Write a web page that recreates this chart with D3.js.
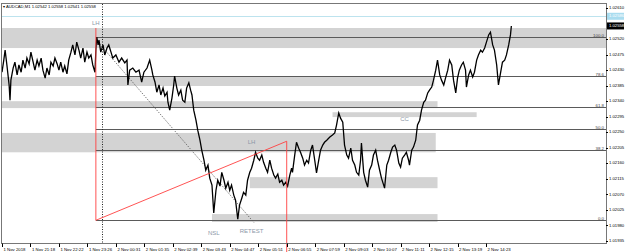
<!DOCTYPE html>
<html>
<head>
<meta charset="utf-8">
<script src="https://cdn.jsdelivr.net/npm/d3@7"></script>
<style>
  body { margin: 0; background: #fff; }
  svg { display: block; font-family: "Liberation Sans", Arial, sans-serif; }
</style>
</head>
<body>
<div id="chart"></div>
<script>
// AUDCAD M1, bar index counted from the first bar on screen
const header = "AUDCAD,M1  1.02542 1.02558 1.02541 1.02558";

const timeLabels = ["1 Nov 2018", "1 Nov 21:18", "1 Nov 22:22", "1 Nov 23:26", "2 Nov 00:31", "2 Nov 01:35",
  "2 Nov 02:39", "2 Nov 03:43", "2 Nov 04:47", "2 Nov 05:51", "2 Nov 06:55", "2 Nov 07:59",
  "2 Nov 09:03", "2 Nov 10:07", "2 Nov 11:11", "2 Nov 12:15", "2 Nov 13:19", "2 Nov 14:23"];
const barsPerLabel = 64;

const priceTicks = [1.01935, 1.01980, 1.02025, 1.02070, 1.02115, 1.02160, 1.02205, 1.02250,
  1.02295, 1.02340, 1.02385, 1.02430, 1.02475, 1.02520, 1.02610];

const askPrice = 1.02586;
const bidPrice = 1.02558;

// [bar, price]
const prices = [
  [0, 1.02424], [4, 1.02459], [7, 1.02488], [11, 1.02445], [16, 1.02387], [18, 1.02343], [20, 1.02401],
  [25, 1.02436], [29, 1.02453], [34, 1.02416], [38, 1.02445], [43, 1.02424], [47, 1.02459], [52, 1.02436],
  [56, 1.02465], [61, 1.02448], [65, 1.02482], [70, 1.02453], [74, 1.02430], [79, 1.02459], [83, 1.02442],
  [88, 1.02465], [92, 1.02430], [97, 1.02407], [101, 1.02436], [106, 1.02416], [110, 1.02453], [115, 1.02442],
  [119, 1.02465], [124, 1.02448], [128, 1.02430], [132, 1.02453], [137, 1.02424], [141, 1.02442], [146, 1.02419],
  [150, 1.02459], [155, 1.02482], [159, 1.02503], [164, 1.02474], [168, 1.02511], [173, 1.02488], [177, 1.02465],
  [182, 1.02494], [186, 1.02453], [191, 1.02482], [195, 1.02465], [200, 1.02474], [204, 1.02445], [209, 1.02424],
  [211, 1.02488], [213, 1.02526], [216, 1.02503], [218, 1.02517], [222, 1.02482], [227, 1.02503], [231, 1.02474],
  [236, 1.02494], [240, 1.02503], [245, 1.02482], [249, 1.02465], [256, 1.02474], [263, 1.02453], [269, 1.02465],
  [276, 1.02451], [281, 1.02459], [283, 1.02387], [287, 1.02430], [294, 1.02436], [301, 1.02424], [308, 1.02430],
  [314, 1.02395], [319, 1.02424], [326, 1.02436], [332, 1.02459], [337, 1.02430], [339, 1.02416], [344, 1.02395],
  [348, 1.02366], [353, 1.02387], [357, 1.02358], [362, 1.02378], [366, 1.02355], [371, 1.02366], [373, 1.02337],
  [377, 1.02314], [382, 1.02349], [386, 1.02387], [388, 1.02413], [393, 1.02378], [397, 1.02358], [402, 1.02372],
  [406, 1.02343], [411, 1.02337], [415, 1.02378], [420, 1.02393], [424, 1.02372], [427, 1.02358], [431, 1.02314],
  [436, 1.02285], [440, 1.02256], [445, 1.02227], [449, 1.02198], [454, 1.02169], [458, 1.02140], [463, 1.02155],
  [467, 1.02117], [472, 1.02097], [476, 1.02016], [481, 1.02082], [485, 1.02111], [490, 1.02094], [494, 1.02134],
  [499, 1.02111], [503, 1.02088], [508, 1.02105], [512, 1.02082], [516, 1.02097], [521, 1.02068], [525, 1.02053],
  [530, 1.01998], [534, 1.02039], [539, 1.02059], [543, 1.02076], [548, 1.02068], [552, 1.02111], [557, 1.02134],
  [561, 1.02146], [566, 1.02169], [570, 1.02192], [575, 1.02175], [579, 1.02169], [584, 1.02184], [588, 1.02163],
  [593, 1.02146], [597, 1.02134], [602, 1.02169], [606, 1.02146], [611, 1.02126], [615, 1.02117], [620, 1.02129],
  [624, 1.02105], [629, 1.02111], [633, 1.02097], [638, 1.02105], [642, 1.02094], [647, 1.02126], [651, 1.02146],
  [653, 1.02134], [658, 1.02184], [662, 1.02221], [667, 1.02204], [671, 1.02192], [676, 1.02175], [680, 1.02155],
  [685, 1.02169], [689, 1.02161], [694, 1.02198], [698, 1.02213], [703, 1.02169], [707, 1.02132], [712, 1.02169],
  [716, 1.02198], [721, 1.02213], [725, 1.02221], [730, 1.02227], [737, 1.02236], [743, 1.02242], [748, 1.02248],
  [752, 1.02271], [757, 1.02306], [761, 1.02291], [766, 1.02279], [770, 1.02213], [775, 1.02184], [779, 1.02175],
  [784, 1.02204], [788, 1.02169], [793, 1.02155], [797, 1.02134], [802, 1.02126], [806, 1.02169], [808, 1.02219],
  [813, 1.02134], [817, 1.02111], [822, 1.02091], [826, 1.02140], [831, 1.02155], [835, 1.02184], [840, 1.02198],
  [844, 1.02169], [849, 1.02140], [853, 1.02117], [858, 1.02097], [860, 1.02088], [865, 1.02155], [869, 1.02169],
  [874, 1.02192], [878, 1.02207], [883, 1.02213], [887, 1.02198], [892, 1.02161], [896, 1.02149], [900, 1.02175],
  [905, 1.02184], [909, 1.02192], [914, 1.02169], [916, 1.02155], [921, 1.02198], [925, 1.02207], [930, 1.02227],
  [934, 1.02271], [939, 1.02285], [943, 1.02314], [948, 1.02337], [952, 1.02343], [957, 1.02364], [961, 1.02372],
  [966, 1.02381], [970, 1.02401], [975, 1.02430], [979, 1.02459], [984, 1.02416], [988, 1.02401], [993, 1.02387],
  [997, 1.02407], [1002, 1.02430], [1006, 1.02459], [1011, 1.02445], [1015, 1.02401], [1020, 1.02364], [1024, 1.02407],
  [1028, 1.02430], [1033, 1.02445], [1037, 1.02453], [1042, 1.02430], [1044, 1.02381], [1049, 1.02416], [1053, 1.02430],
  [1058, 1.02410], [1062, 1.02424], [1067, 1.02459], [1071, 1.02474], [1076, 1.02488], [1080, 1.02482], [1085, 1.02494],
  [1089, 1.02511], [1094, 1.02532], [1098, 1.02540], [1103, 1.02503], [1107, 1.02488], [1112, 1.02445], [1116, 1.02387],
  [1121, 1.02424], [1125, 1.02453], [1130, 1.02459], [1134, 1.02474], [1139, 1.02503], [1143, 1.02532], [1145, 1.02558]
];

// supply / demand zones: [fromBar, toBar, top, bottom]
const zones = [
  [-20, 1500, 1.02552, 1.02494],
  [-20, 972, 1.02410, 1.02384],
  [-20, 979, 1.02340, 1.02320],
  [743, 1067, 1.02308, 1.02294],
  [-20, 975, 1.02248, 1.02192],
  [557, 979, 1.02120, 1.02088],
  [472, 979, 1.02013, 1.01990]
];

// fibonacci
const fibStartBar = 211;
const fibLow = 1.01995;
const fibHigh = 1.02526;
const fibLevels = [0, 38.2, 50, 61.8, 78.6, 100];

// red fibo trendline + verticals
const redLine = [[211, 1.02552], [211, 1.01995], [640, 1.02224], [640, 1.01800]];
// dotted trend line
const dotLine = [[216, 1.02511], [566, 1.01989]];
const vLineBar = 225;

const notes = [
  { text: "LH", bar: 211, price: 1.02564 },
  { text: "LH", bar: 561, price: 1.02221 },
  { text: "CC", bar: 905, price: 1.02288 },
  { text: "NSL", bar: 476, price: 1.01957 },
  { text: "RETEST", bar: 561, price: 1.01962 }
];

const W = 625, H = 252;
const plot = { left: 1, top: 4, right: 606, bottom: 244 };

const svg = d3.select("#chart").append("svg")
  .attr("width", W).attr("height", H);

const x = d3.scaleLinear()
  .domain([0, barsPerLabel * (timeLabels.length - 1)])
  .range([2, 486]);

const y = d3.scaleLinear()
  .domain([1.01935, 1.02610])
  .range([241, 8]);

svg.append("clipPath").attr("id", "clip")
  .append("rect")
  .attr("x", plot.left).attr("y", plot.top)
  .attr("width", plot.right - plot.left).attr("height", plot.bottom - plot.top);

const g = svg.append("g").attr("clip-path", "url(#clip)");

// zones
g.selectAll(".zone").data(zones).enter().append("rect")
  .attr("x", d => x(d[0]))
  .attr("y", d => y(d[2]))
  .attr("width", d => x(d[1]) - x(d[0]))
  .attr("height", d => y(d[3]) - y(d[2]))
  .attr("fill", "#d3d3d3");

// ask line
g.append("line")
  .attr("x1", plot.left).attr("x2", plot.right)
  .attr("y1", Math.round(y(askPrice)) + 0.5).attr("y2", Math.round(y(askPrice)) + 0.5)
  .attr("stroke", "#bde3ee").attr("stroke-width", 1);

// fib levels
const fibPrice = lv => fibLow + (fibHigh - fibLow) * lv / 100;
g.selectAll(".fib").data(fibLevels).enter().append("line")
  .attr("x1", x(fibStartBar)).attr("x2", plot.right)
  .attr("y1", d => Math.round(y(fibPrice(d))) + 0.5)
  .attr("y2", d => Math.round(y(fibPrice(d))) + 0.5)
  .attr("stroke", "#5a5a5a").attr("stroke-width", 1);

g.selectAll(".fibtxt").data(fibLevels).enter().append("text")
  .attr("x", plot.right - 2)
  .attr("y", d => Math.round(y(fibPrice(d))) - 0.5)
  .attr("text-anchor", "end")
  .style("font-size", "4.4px")
  .attr("fill", "#444")
  .text(d => d.toFixed(1));

// vertical dotted line
g.append("line")
  .attr("x1", Math.round(x(vLineBar)) + 0.5).attr("x2", Math.round(x(vLineBar)) + 0.5)
  .attr("y1", plot.top).attr("y2", plot.bottom)
  .attr("stroke", "#222").attr("stroke-dasharray", "1,1.5");

// dotted trend line
g.append("line")
  .attr("x1", x(dotLine[0][0])).attr("y1", y(dotLine[0][1]))
  .attr("x2", x(dotLine[1][0])).attr("y2", y(dotLine[1][1]))
  .attr("stroke", "#555").attr("stroke-dasharray", "1,1.5");

// price
const line = d3.line().x(d => x(d[0])).y(d => y(d[1]));
g.append("path").datum(prices)
  .attr("d", line)
  .attr("fill", "none")
  .attr("stroke", "#000")
  .attr("stroke-width", 1.3)
  .attr("stroke-linejoin", "miter");

// red fibo lines
svg.append("path").datum(redLine)
  .attr("d", line)
  .attr("fill", "none")
  .attr("stroke", "#ff4040")
  .attr("stroke-width", 0.9);

// notes
svg.selectAll(".note").data(notes).enter().append("text")
  .attr("x", d => x(d.bar))
  .attr("y", d => y(d.price))
  .attr("text-anchor", "middle")
  .attr("dominant-baseline", "middle")
  .style("font-size", "6px")
  .attr("fill", "#8c98a8")
  .text(d => d.text);

// frame
svg.append("rect")
  .attr("x", plot.left + 0.5).attr("y", plot.top - 0.5)
  .attr("width", plot.right - plot.left).attr("height", plot.bottom - plot.top)
  .attr("fill", "none").attr("stroke", "#777");

// header
svg.append("text").attr("x", 3).attr("y", 8)
  .style("font-size", "4.2px").attr("fill", "#000")
  .text("\u25BE " + header);

// right axis
const ya = svg.append("g");
ya.selectAll(".yt").data(priceTicks).enter().append("line")
  .attr("x1", plot.right).attr("x2", plot.right + 2)
  .attr("y1", d => Math.round(y(d)) + 0.5).attr("y2", d => Math.round(y(d)) + 0.5)
  .attr("stroke", "#000");

function priceLabel(sel, fill) {
  sel.attr("x", plot.right + 3)
    .attr("dominant-baseline", "middle")
    .style("font-size", "4.2px")
    .attr("fill", fill);
}

ya.selectAll(".yl").data(priceTicks).enter().append("text")
  .attr("y", d => y(d))
  .call(priceLabel, "#000")
  .text(d => d.toFixed(5));

// ask / bid tags
[[askPrice, "#a9dcef", "#fff"], [bidPrice, "#000", "#fff"]].forEach(([p, bg, fg]) => {
  ya.append("rect")
    .attr("x", plot.right + 1).attr("y", y(p) - 3.5)
    .attr("width", 17).attr("height", 7)
    .attr("fill", bg);
  ya.append("text")
    .attr("y", y(p))
    .call(priceLabel, fg)
    .text(p.toFixed(5));
});

// bottom axis
const xa = svg.append("g");
xa.selectAll(".xt").data(timeLabels).enter().append("line")
  .attr("x1", (d, i) => Math.round(x(i * barsPerLabel)) + 0.5)
  .attr("x2", (d, i) => Math.round(x(i * barsPerLabel)) + 0.5)
  .attr("y1", plot.bottom - 0.5).attr("y2", plot.bottom + 3)
  .attr("stroke", "#000");
xa.selectAll(".xl").data(timeLabels).enter().append("text")
  .attr("x", (d, i) => x(i * barsPerLabel) + 1.5)
  .attr("y", plot.bottom + 6.5)
  .style("font-size", "4.3px")
  .attr("fill", "#000")
  .text(d => d);
</script>
</body>
</html>
